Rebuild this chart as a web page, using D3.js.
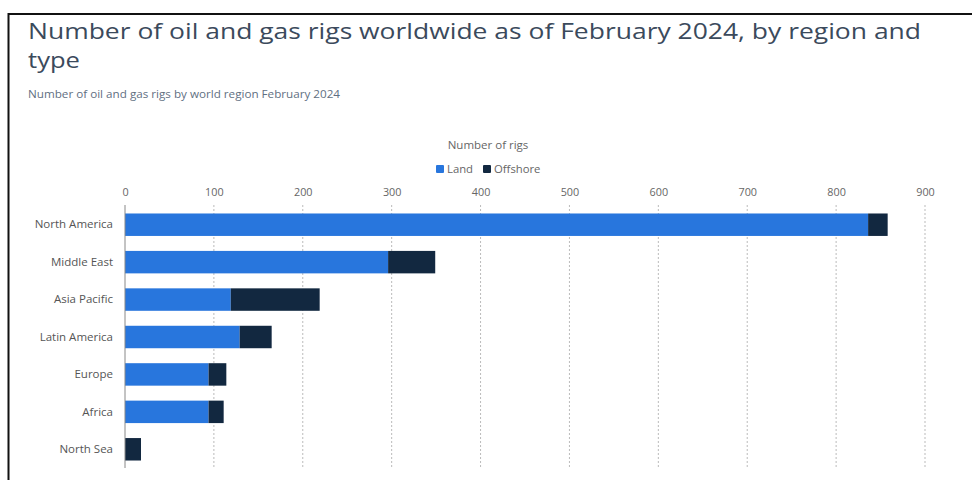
<!DOCTYPE html>
<html>
<head>
<meta charset="utf-8">
<script src="https://cdn.jsdelivr.net/npm/d3@7"></script>
<style>
  html, body { margin: 0; padding: 0; background: #fff; }
  svg { display: block; font-family: "Open Sans", "Noto Sans", sans-serif; }
</style>
</head>
<body>
<svg id="chart" width="972" height="480"></svg>
<script>
const regions = ["North America", "Middle East", "Asia Pacific", "Latin America", "Europe", "Africa", "North Sea"];
const landValues = [836, 296, 119, 129, 94, 94, 0];
const offshoreValues = [22, 53, 100, 36, 20, 17, 18];
const seriesNames = ["Land", "Offshore"];
const seriesColors = ["#2876dd", "#122840"];
const tickValues = [0, 100, 200, 300, 400, 500, 600, 700, 800, 900];
const titleLines = ["Number of oil and gas rigs worldwide as of February 2024, by region and", "type"];
const subtitle = "Number of oil and gas rigs by world region February 2024";
const axisTitle = "Number of rigs";

const svg = d3.select("#chart");

// frame lines
svg.append("line").attr("x1", 8.5).attr("x2", 8.5).attr("y1", 13).attr("y2", 480)
  .attr("stroke", "#111").attr("stroke-width", 2);
svg.append("line").attr("x1", 8).attr("x2", 972).attr("y1", 14).attr("y2", 14)
  .attr("stroke", "#111").attr("stroke-width", 2);

// title: two lines
const titleY = [39, 68];
const titleLengths = [893, 52];
titleLines.forEach((line, i) => {
  svg.append("text").attr("x", 28).attr("y", titleY[i])
    .attr("font-size", 21).attr("fill", "#3b4a5c")
    .attr("textLength", titleLengths[i]).attr("lengthAdjust", "spacingAndGlyphs").text(line);
});
svg.append("text").attr("x", 28).attr("y", 98)
  .attr("font-size", 10.2).attr("fill", "#5f6f82")
  .attr("textLength", 312).attr("lengthAdjust", "spacingAndGlyphs").text(subtitle);

// scales
const x = d3.scaleLinear().domain([0, 900]).range([125, 925]);
const y = d3.scaleBand().domain(regions).range([206, 468]).paddingInner(0.4).paddingOuter(0.2);

// legend
svg.append("text").attr("x", 488).attr("y", 149).attr("text-anchor", "middle")
  .attr("font-size", 11.5).attr("fill", "#666").text(axisTitle);
const legendX = [436, 483];
seriesNames.forEach((name, i) => {
  const g = svg.append("g").attr("transform", `translate(${legendX[i]},165)`);
  g.append("rect").attr("width", 8).attr("height", 8).attr("rx", 1).attr("fill", seriesColors[i]);
  g.append("text").attr("x", 11).attr("y", 8).attr("font-size", 11.3).attr("fill", "#666").text(name);
});

// gridlines
svg.append("g").selectAll("line").data(tickValues.filter(d => d > 0)).join("line")
  .attr("x1", d => x(d)).attr("x2", d => x(d)).attr("y1", 205).attr("y2", 468)
  .attr("stroke", "#bbb").attr("stroke-width", 1).attr("stroke-dasharray", "2,2");

// top axis tick labels
const xAxis = d3.axisTop(x).tickValues(tickValues).tickSize(0).tickPadding(0);
const gx = svg.append("g").attr("transform", "translate(0,196)").call(xAxis);
gx.select(".domain").remove();
gx.selectAll("text").attr("font-size", 10.8).attr("fill", "#666")
  .attr("font-family", "'Open Sans', sans-serif");

// bars
const stackData = regions.map((r, i) => ({ region: r, Land: landValues[i], Offshore: offshoreValues[i] }));
const stacked = d3.stack().keys(seriesNames)(stackData);
svg.append("g").selectAll("g").data(stacked).join("g")
  .attr("fill", (d, i) => seriesColors[i])
  .selectAll("rect").data(d => d).join("rect")
  .attr("x", d => x(d[0]))
  .attr("y", d => y(d.data.region))
  .attr("width", d => Math.max(0, x(d[1]) - x(d[0])))
  .attr("height", y.bandwidth());

// baseline
svg.append("line").attr("x1", x(0)).attr("x2", x(0)).attr("y1", 205).attr("y2", 468)
  .attr("stroke", "#888").attr("stroke-width", 1);

// category labels
const yAxis = d3.axisLeft(y).tickSize(0).tickPadding(12);
const gy = svg.append("g").attr("transform", `translate(${x(0)},0)`).call(yAxis);
gy.select(".domain").remove();
gy.selectAll("text").attr("font-size", 11.5).attr("fill", "#555")
  .attr("font-family", "'Open Sans', sans-serif");
</script>
</body>
</html>
